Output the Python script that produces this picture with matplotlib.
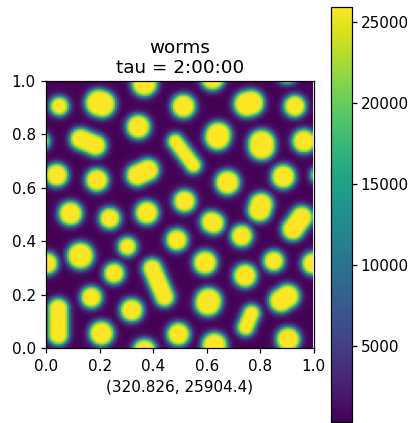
import numpy as np
import matplotlib
matplotlib.use("Agg")
import matplotlib.pyplot as plt

# blobs: segment end points and radius (axes units)
x1 = [.050, .198, .369, .346, .130, .040, .191, .342, .092, .239, .378, -.020,
      .515, .624, .752, .932, .903, .643, .808, .966, .485, .680, .889, .519,
      .620, .800, .925, .733, .490, .596, .746, .853, 1.00, .607, .880, .748,
      .907, .631, .496, .129, .305, .255, .003, .170, .046, .321, .208, .369,
      .398, 1.02]
y1 = [.906, .918, .991, .829, .783, .648, .629, .648, .504, .486, .507, .775,
      .906, 1.01, .914, .906, 1.03, .790, .755, .775, .773, .620, .642, .550,
      .472, .518, .445, .420, .405, .320, .271, .326, .317, .170, .178, .078,
      .033, .011, .052, .346, .380, .280, .317, .190, .050, .142, .055, -.010,
      .298, .648]
x2 = [.050, .210, .369, .346, .186, .040, .191, .382, .092, .239, .378, -.020,
      .515, .624, .768, .932, .903, .645, .808, .966, .552, .680, .889, .519,
      .628, .806, .958, .733, .490, .596, .746, .853, 1.00, .609, .905, .770,
      .907, .631, .496, .129, .305, .255, .003, .170, .046, .321, .208, .369,
      .444, 1.02]
y2 = [.906, .914, .991, .829, .759, .648, .629, .667, .504, .486, .507, .775,
      .906, 1.01, .918, .906, 1.03, .798, .767, .775, .685, .620, .642, .550,
      .468, .537, .490, .420, .405, .320, .271, .326, .317, .176, .194, .130,
      .033, .011, .052, .346, .380, .280, .317, .190, .148, .142, .055, -.010,
      .192, .648]
radius = [.034, .050, .047, .044, .039, .042, .042, .041, .044, .039, .043, .032,
          .044, .043, .048, .040, .037, .048, .050, .043, .029, .045, .044, .041,
          .040, .044, .041, .040, .040, .044, .043, .038, .041, .049, .044, .031,
          .044, .046, .042, .049, .034, .038, .040, .039, .037, .042, .045, .043,
          .036, .026]

vmin = 320.826
vmax = 25904.4
cbar_ticks = [5000, 10000, 15000, 20000, 25000]
N = 128

gx = (np.arange(N) + 0.5) / N
X, Y = np.meshgrid(gx, gx)

# distance to the closest blob
dist = np.full(X.shape, 10.0)
for a, b, c, d, r in zip(x1, y1, x2, y2, radius):
    dx, dy = c - a, d - b
    l2 = dx * dx + dy * dy
    t = np.clip(((X - a) * dx + (Y - b) * dy) / l2, 0, 1) if l2 > 0 else 0 * X
    dist = np.minimum(dist, np.hypot(X - a - t * dx, Y - b - t * dy) - r)

level = 0.975 / (1 + np.exp((dist - 0.002) / 0.0056)) + 0.07 * np.exp(-np.maximum(dist, 0) / 0.018)
field = vmin + (vmax - vmin) * np.clip(level, 0, 1)

fig = plt.figure(figsize=(409 / 110, 423 / 110), dpi=110)
ax = fig.add_axes([46 / 409, 1 - 348 / 423, 268 / 409, 267 / 423])
im = ax.imshow(field, origin="lower", extent=[0, 1, 0, 1], cmap="viridis", vmin=vmin, vmax=vmax)
ax.set_title("worms\ntau = 2:00:00", pad=5)
ax.set_xlabel("(320.826, 25904.4)")

cax = fig.add_axes([330.5 / 409, 1 - 422 / 423, 21 / 409, 415 / 423])
cbar = fig.colorbar(im, cax=cax)
cbar.set_ticks(cbar_ticks)
cbar.ax.tick_params(pad=2.5)

fig.savefig("out.png", dpi=110)
